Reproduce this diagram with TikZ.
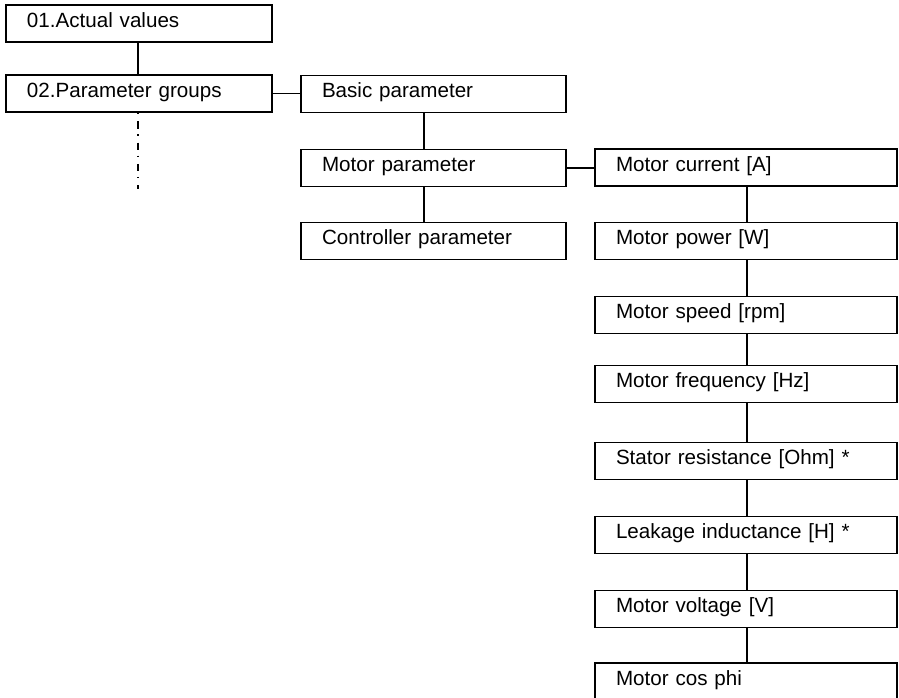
\documentclass[tikz,border=0pt]{standalone}
\usepackage{fontspec}
\setmainfont{Liberation Sans}
\begin{document}
\begin{tikzpicture}[x=1pt,y=-1pt,
  box/.style={draw, line width=1.8pt, rectangle, inner xsep=21pt, inner ysep=0pt,
    minimum height=37pt, align=left, text height=12pt, text depth=5pt,
    font=\fontsize{20.6}{24}\selectfont},
  boxa/.style={box, text width=224pt},
  boxb/.style={box, text width=223pt},
  boxc/.style={box, text width=260pt},
  link/.style={line width=1.8pt},
  dashdot/.style={line width=1.8pt, dash pattern=on 7.5pt off 5.5pt on 1.5pt off 6.8pt, dash phase=13pt}]
\useasboundingbox (0,0) rectangle (899,697);
\clip (0,0) rectangle (899,697);
% left column
\node[boxa] (a1) at (139,23.5) {01.Actual values};
\node[boxa] (a2) at (139,93.5) {02.Parameter groups};
% middle column
\node[boxb] (b1) at (433.5,94) {Basic parameter};
\node[boxb] (b2) at (433.5,168) {Motor parameter};
\node[boxb] (b3) at (433.5,241) {Controller parameter};
% right column
\node[boxc] (c1) at (746,167.5) {Motor current [A]};
\node[boxc] (c2) at (746,241) {Motor power [W]};
\node[boxc] (c3) at (746,315) {Motor speed [rpm]};
\node[boxc] (c4) at (746,384) {Motor frequency [Hz]};
\node[boxc] (c5) at (746,461) {Stator resistance [Ohm] *};
\node[boxc] (c6) at (746,535) {Leakage inductance [H] *};
\node[boxc] (c7) at (746,609) {Motor voltage [V]};
\node[boxc] (c8) at (746,681.5) {Motor cos phi};
% connector columns
\coordinate (xa) at (138,0);
\coordinate (xb) at (424,0);
\coordinate (xc) at (747,0);
\coordinate (dend) at (138,189);
\draw[link] (a1.south -| xa) -- (a2.north -| xa);
\draw[dashdot] (a2.south -| xa) -- (dend);
\draw[link] (a2.east) -- (a2.east -| b1.west);
\draw[link] (b1.south -| xb) -- (b2.north -| xb);
\draw[link] (b2.south -| xb) -- (b3.north -| xb);
\draw[link] (b2.east) -- (b2.east -| c1.west);
\foreach \u/\v in {c1/c2,c2/c3,c3/c4,c4/c5,c5/c6,c6/c7,c7/c8}
  \draw[link] (\u.south -| xc) -- (\v.north -| xc);
\end{tikzpicture}
\end{document}
